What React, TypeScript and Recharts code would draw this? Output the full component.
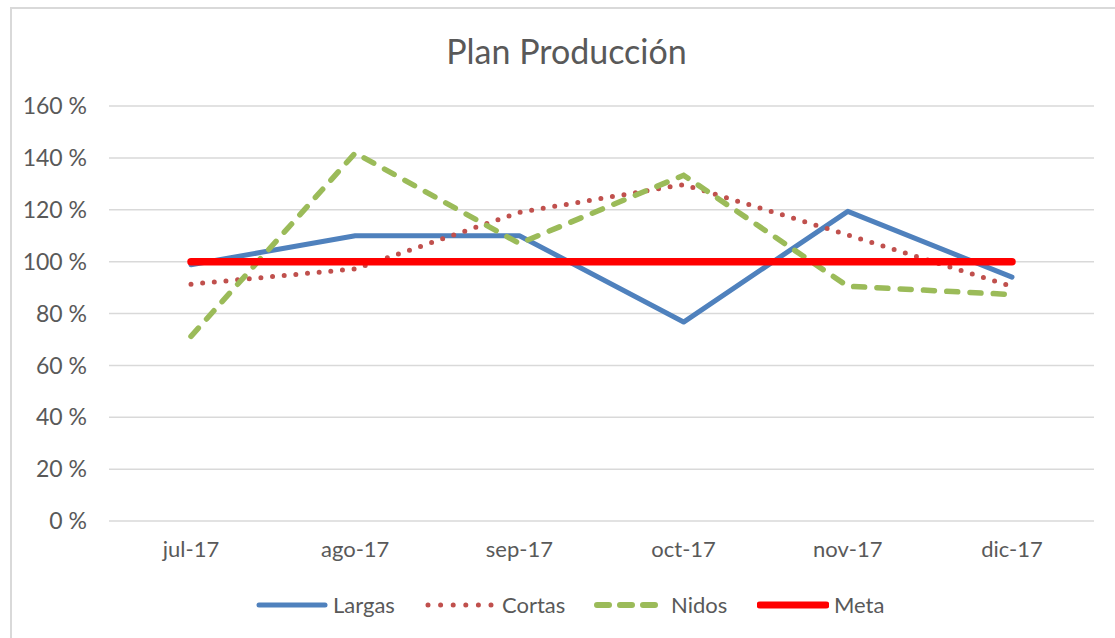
import React from 'react';
import { LineChart, Line, XAxis, YAxis, CartesianGrid, Legend } from 'recharts';

const categories = ['jul-17', 'ago-17', 'sep-17', 'oct-17', 'nov-17', 'dic-17'];
const largas = [98.8, 110, 110, 76.7, 119.4, 94];
const cortas = [91.3, 97.2, 119, 129.7, 110.3, 90.4];
const nidos = [71.2, 141.9, 107, 133.3, 90.5, 87.3];
const meta = [100, 100, 100, 100, 100, 100];
const yTicks = [0, 20, 40, 60, 80, 100, 120, 140, 160];

const data = categories.map((c, i) => ({
  name: c,
  Largas: largas[i],
  Cortas: cortas[i],
  Nidos: nidos[i],
  Meta: meta[i],
}));

const FONT = 'Lato, "Open Sans", sans-serif';
const TXT = '#595959';

const legendItems = [
  { name: 'Largas', color: '#4f81bd', dash: undefined as string | undefined, w: 5, width: 169 },
  { name: 'Cortas', color: '#c0504d', dash: '0 12.6', w: 5, width: 169 },
  { name: 'Nidos', color: '#9bbb59', dash: '12 11', w: 6, width: 163 },
  { name: 'Meta', color: '#ff0000', dash: undefined as string | undefined, w: 7, width: 130 },
];

const LegendContent = () => (
  <div style={{ display: 'flex', paddingLeft: 227, paddingTop: 40, fontFamily: FONT, fontSize: 22, color: TXT }}>
    {legendItems.map((it) => (
      <div key={it.name} style={{ width: it.width, flex: 'none', display: 'flex', alignItems: 'center' }}>
        <svg width={72} height={12} style={{ marginRight: 5, flex: 'none' }}>
          <line x1={3} y1={6} x2={69} y2={6} stroke={it.color} strokeWidth={it.w} strokeLinecap="round" strokeDasharray={it.dash} />
        </svg>
        <span>{it.name}</span>
      </div>
    ))}
  </div>
);

export default function App() {
  return (
    <div style={{ position: 'fixed', left: 0, top: 0, width: 1115, height: 638, overflow: 'hidden', background: '#fff' }}>
      <div style={{ position: 'absolute', left: 10, top: 7, width: 1200, height: 700, borderLeft: '2px solid #d9d9d9', borderTop: '2px solid #d9d9d9' }} />
      <div style={{ position: 'absolute', left: 0, top: 30, width: 1133, textAlign: 'center', fontFamily: FONT, fontSize: 34, color: TXT }}>
        Plan Producción
      </div>
      <div style={{ position: 'absolute', left: 0, top: 0 }}>
        <LineChart width={1115} height={638} data={data} margin={{ top: 106, right: 21, left: 29, bottom: 5 }}>
          <CartesianGrid vertical={false} stroke="#d9d9d9" strokeWidth={1.5} />
          <XAxis
            dataKey="name"
            axisLine={false}
            tickLine={false}
            height={30}
            tickMargin={14}
            padding={{ left: 82, right: 82 }}
            tick={{ fill: TXT, fontSize: 22, fontFamily: FONT }}
          />
          <YAxis
            domain={[0, 160]}
            ticks={yTicks}
            width={80}
            axisLine={false}
            tickLine={false}
            tickSize={0}
            tickMargin={22}
            tickFormatter={(v: number) => `${v} %`}
            tick={{ fill: TXT, fontSize: 23, fontFamily: FONT }}
          />
          <Legend verticalAlign="bottom" height={82} content={() => <LegendContent />} />
          <Line dataKey="Largas" stroke="#4f81bd" strokeWidth={5} dot={false} isAnimationActive={false} strokeLinecap="round" strokeLinejoin="round" />
          <Line dataKey="Cortas" stroke="#c0504d" strokeWidth={5} strokeDasharray="0 11.7" strokeLinecap="round" dot={false} isAnimationActive={false} />
          <Line dataKey="Nidos" stroke="#9bbb59" strokeWidth={5.5} strokeDasharray="11 12.3" strokeLinecap="round" dot={false} isAnimationActive={false} />
          <Line dataKey="Meta" stroke="#ff0000" strokeWidth={7.5} strokeLinecap="round" dot={false} isAnimationActive={false} />
        </LineChart>
      </div>
    </div>
  );
}
